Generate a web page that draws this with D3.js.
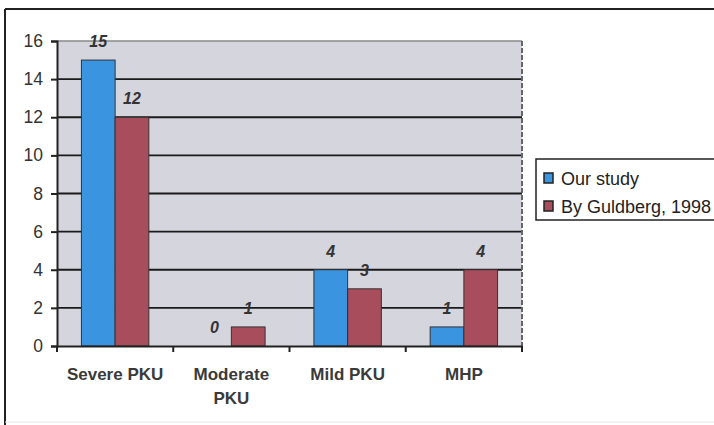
<!DOCTYPE html>
<html><head><meta charset="utf-8">
<script src="https://cdn.jsdelivr.net/npm/d3@7"></script>
<style>body{margin:0;background:#fff}svg{display:block;font-family:"Liberation Sans",Arial,sans-serif}</style>
</head><body><svg id="c" width="714" height="425"></svg>
<script>
const categories = [["Severe PKU"], ["Moderate", "PKU"], ["Mild PKU"], ["MHP"]];
const seriesNames = ["Our study", "By Guldberg, 1998"];
const ourStudy = [15, 0, 4, 1];
const guldberg = [12, 1, 3, 4];
const yTicks = [0, 2, 4, 6, 8, 10, 12, 14, 16];
const colors = ["#3b94e0", "#a84d5b"];

const svg = d3.select("#c");
const L = 57, R = 522, T = 41, B = 346;
const catKeys = categories.map(c => c.join(" "));
const x0 = d3.scaleBand().domain(catKeys).range([L, R]).paddingInner(0.42).paddingOuter(0.21);
const x1 = d3.scaleBand().domain([0, 1]).range([0, x0.bandwidth()]);
const y = d3.scaleLinear().domain([0, 16]).range([B, T]);
const series = [ourStudy, guldberg];

// outer frame
svg.append("line").attr("x1", 5).attr("x2", 5).attr("y1", 9).attr("y2", 425).attr("stroke", "#222").attr("stroke-width", 2);
svg.append("line").attr("x1", 5).attr("x2", 714).attr("y1", 9).attr("y2", 9).attr("stroke", "#222").attr("stroke-width", 2);
svg.append("line").attr("x1", 5).attr("x2", 714).attr("y1", 422).attr("y2", 422).attr("stroke", "#e6e6e6").attr("stroke-width", 1);

// plot background
svg.append("rect").attr("x", L).attr("y", T).attr("width", R - L).attr("height", B - T).attr("fill", "#d5d5dd");

// gridlines
svg.append("g").selectAll("line").data(yTicks.filter(v => v > 0 && v < 16)).join("line")
  .attr("x1", L).attr("x2", R).attr("y1", d => y(d)).attr("y2", d => y(d))
  .attr("stroke", "#1a1a1a").attr("stroke-width", 1.8);
svg.append("line").attr("x1", L).attr("x2", R).attr("y1", y(16)).attr("y2", y(16)).attr("stroke", "#888").attr("stroke-width", 1.5);
svg.append("line").attr("x1", R).attr("x2", R).attr("y1", T).attr("y2", B).attr("stroke", "#666").attr("stroke-width", 2).attr("stroke-dasharray", "5,2");

// bars
const g = svg.append("g");
categories.forEach((c, i) => {
  series.forEach((s, j) => {
    const bx = x0(catKeys[i]) + x1(j);
    if (s[i] > 0) {
      g.append("rect").attr("x", bx).attr("y", y(s[i])).attr("width", x1.bandwidth()).attr("height", y(0) - y(s[i]))
        .attr("fill", colors[j]).attr("stroke", "#333").attr("stroke-width", 1);
    }
    g.append("text").attr("x", bx + x1.bandwidth() / 2).attr("y", y(s[i]) - 13)
      .attr("text-anchor", "middle").attr("font-size", 16).attr("font-weight", "bold").attr("font-style", "italic")
      .attr("fill", "#333").text(s[i]);
  });
});

// y axis
const ya = svg.append("g").attr("transform", `translate(${L},0)`)
  .call(d3.axisLeft(y).tickValues(yTicks).tickSize(6).tickPadding(8).tickFormat(d3.format("d")));
ya.attr("font-size", 17.5);
ya.select(".domain").attr("stroke", "#222").attr("stroke-width", 2);
ya.selectAll(".tick line").attr("stroke", "#222").attr("stroke-width", 2);
ya.selectAll(".tick text").attr("font-size", 17.5).attr("fill", "#333").attr("font-family", "Liberation Sans, Arial, sans-serif");

// x axis
const xa = svg.append("g").attr("transform", `translate(0,${B})`)
  .call(d3.axisBottom(x0).tickSize(0).tickFormat(""));
xa.select(".domain").attr("stroke", "#222").attr("stroke-width", 2);
const bounds = [L, ...catKeys.slice(1).map(k => x0(k) - x0.step() * x0.paddingInner() / 2), R];
svg.append("g").selectAll("line").data(bounds).join("line")
  .attr("x1", d => d).attr("x2", d => d).attr("y1", B).attr("y2", B + 6).attr("stroke", "#222").attr("stroke-width", 2);
categories.forEach((c, i) => {
  const cx = x0(catKeys[i]) + x0.bandwidth() / 2;
  const t = svg.append("text").attr("x", cx).attr("y", 380)
    .attr("text-anchor", "middle").attr("font-size", 17).attr("font-weight", "bold").attr("fill", "#3a3a3a");
  c.forEach((line, k) => t.append("tspan").attr("x", cx).attr("dy", k ? 24 : 0).text(line));
});

// legend
const lg = svg.append("g");
lg.append("rect").attr("x", 536).attr("y", 159).attr("width", 185).attr("height", 61).attr("fill", "#fff").attr("stroke", "#222").attr("stroke-width", 1.5);
seriesNames.forEach((n, j) => {
  const base = 185 + j * 28;
  lg.append("rect").attr("x", 544).attr("y", base - 12).attr("width", 9).attr("height", 10).attr("fill", colors[j]).attr("stroke", "#222").attr("stroke-width", 1.5);
  lg.append("text").attr("x", 561).attr("y", base).attr("font-size", 18).attr("fill", "#222").text(n);
});
</script></body></html>
